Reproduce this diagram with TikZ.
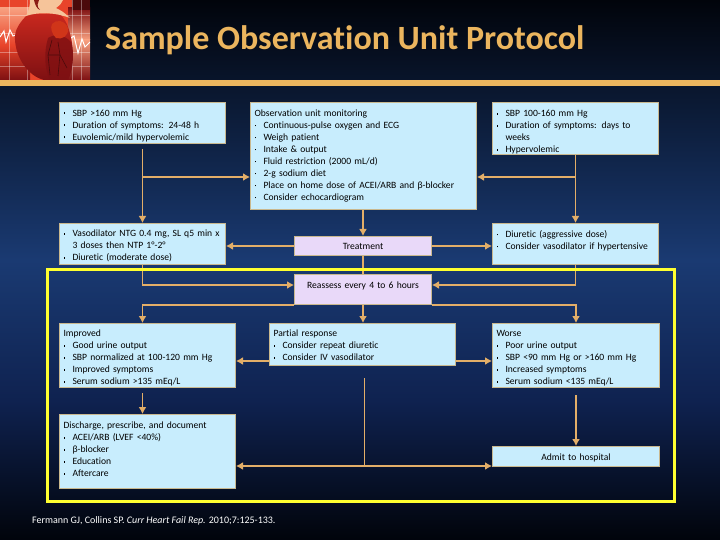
\documentclass[tikz,border=0pt]{standalone}
\usepackage{fontspec}
\setmainfont{Carlito}[Ligatures=CommonOff]
\usetikzlibrary{arrows.meta}

\definecolor{gold}{HTML}{EBB55E}
\definecolor{boxblue}{HTML}{C8EDFD}
\definecolor{boxlilac}{HTML}{E9D9F9}
\definecolor{boxedge}{HTML}{C9B88E}
\definecolor{wire}{HTML}{E3AE68}
\definecolor{frameyellow}{HTML}{FFFF30}
\definecolor{navymid}{HTML}{1A3A72}
\definecolor{navylow}{HTML}{0F2250}
\definecolor{nearblack}{HTML}{01040B}
\definecolor{heartred}{HTML}{C8281E}
\definecolor{heartdark}{HTML}{7E1012}
\definecolor{heartpeach}{HTML}{F6C49A}
\definecolor{scenered}{HTML}{E8442A}
\definecolor{sceneglow}{HTML}{F8A080}

\newcommand{\itm}[1]{\makebox[9pt][l]{\raisebox{2.2pt}{\rule{1.8pt}{1.8pt}}}#1}
\newcommand{\hang}[1]{\hspace*{9pt}#1}
\newcommand{\pad}[1]{\rule{0pt}{#1pt}}

\tikzset{
    infobox/.style={draw=boxedge, line width=1pt, fill=boxblue, text=black, anchor=north west,
        inner xsep=4pt, inner ysep=0pt, align=left, font=\fontsize{9.6}{12}\selectfont},
    stepbox/.style={infobox, fill=boxlilac, align=center},
    link/.style={draw=wire, line width=1.8pt},
    arrowlink/.style={link, -{Latex[length=7pt,width=8pt]}},
}

\begin{document}
\begin{tikzpicture}[x=1pt,y=-1pt]
        \useasboundingbox (0,0) rectangle (720,540);

        % page background
        \shade[top color=nearblack, bottom color=navymid] (0,0) rectangle (720,260);
        \shade[top color=navymid, bottom color=navylow] (0,260) rectangle (720,400);
        \shade[top color=navylow, bottom color=nearblack] (0,400) rectangle (720,540);

        % heart picture
        \begin{scope}
            \clip (0,0) rectangle (90,80);
            \fill[scenered] (0,0) rectangle (90,80);
            \shade[top color=scenered, bottom color=heartdark] (0,45) rectangle (30,80);
            \shade[top color=sceneglow, bottom color=scenered] (0,8) rectangle (30,45);
            \shade[top color=heartdark, bottom color=sceneglow] (68,8) rectangle (90,40);
            \shade[top color=sceneglow, bottom color=heartdark] (68,40) rectangle (90,80);
            \fill[heartdark!60!black] (72,0) rectangle (90,10);
            \foreach \gx in {9,27,72,81} {
                \draw[white, opacity=0.35, line width=0.5pt] (\gx,0) -- (\gx,80);
            }
            \foreach \gy in {15,33,52,66} {
                \draw[white, opacity=0.35, line width=0.5pt] (0,\gy) -- (90,\gy);
            }
            \draw[white, line width=1pt] (0,37) -- (4,31) -- (6,42) -- (10,30) -- (13,36) -- (18,34);
            \draw[white, line width=1pt] (68,40) -- (74,36) -- (78,53) -- (82,39) -- (85,47) -- (90,42);
            % body
            \shade[top color=heartred, bottom color=heartdark]
            (28,14) .. controls (20,22) and (14,30) .. (15,40)
            .. controls (16,58) and (28,76) .. (44,80)
            -- (68,80) .. controls (74,68) and (74,50) .. (71,38)
            .. controls (69,28) and (66,20) .. (60,14) -- cycle;
            % aorta
            \fill[heartpeach]
            (30,0) .. controls (30,6) and (29,10) .. (26,16)
            .. controls (38,12) and (54,12) .. (70,18)
            .. controls (64,12) and (60,10) .. (56,8)
            .. controls (60,5) and (62,3) .. (63,0) -- cycle;
            \fill[heartred!70!black] (34,0) .. controls (35,5) and (37,9) .. (40,10)
            .. controls (36,6) and (38,3) .. (39,0) -- cycle;
            % ventricle and atrium
            \fill[heartdark, opacity=0.75]
            (48,38) .. controls (44,52) and (44,68) .. (50,80)
            -- (68,80) .. controls (74,68) and (74,50) .. (71,42)
            .. controls (64,34) and (54,34) .. (48,38) -- cycle;
            \fill[heartred!85!orange] (52,24) .. controls (56,19) and (65,20) .. (68,28)
            .. controls (69,36) and (62,40) .. (56,38)
            .. controls (52,34) and (50,28) .. (52,24) -- cycle;
            \draw[heartdark!60!black, line width=0.6pt] (52,40) -- (48,55) -- (50,75);
            \draw[heartdark!60!black, line width=0.6pt] (58,42) -- (60,55) -- (58,76);
            \draw[heartdark!60!black, line width=0.6pt] (48,55) -- (60,55) -- (67,68);
        \end{scope}

        % title and bar
        \fill[gold] (0,80) rectangle (720,86);
        \node[anchor=west, inner sep=0pt, text=gold, font=\fontsize{34}{38}\selectfont\bfseries] (title) at (105,40) {Sample Observation Unit Protocol};

        % top row
        \node[infobox, text width=158pt, minimum height=41pt] (highSbp) at (59,102) {\pad{12}\itm{SBP >160 mm Hg}\\ \itm{Duration of symptoms: 24-48 h}\\ \itm{Euvolemic/mild hypervolemic}};
        \node[infobox, text width=218pt, minimum height=107pt] (monitoring) at (250,102) {Observation unit monitoring\\ \itm{Continuous-pulse oxygen and ECG}\\ \itm{Weigh patient}\\ \itm{Intake \& output}\\ \itm{Fluid restriction (2000 mL/d)}\\ \itm{2-g sodium diet}\\ \itm{Place on home dose of ACEI/ARB and β-blocker}\\ \itm{Consider echocardiogram}};
        \node[infobox, text width=158pt, minimum height=52pt] (midSbp) at (492,102) {\pad{14}\itm{SBP 100-160 mm Hg}\\ \itm{Duration of symptoms: days to}\\ \hang{weeks}\\ \itm{Hypervolemic}};

        % treatment row
        \node[infobox, text width=158pt, minimum height=41pt] (vasodil) at (59,223) {\pad{11}\itm{Vasodilator NTG 0.4 mg, SL q5 min x}\\ \hang{3 doses then NTP 1°-2°}\\ \itm{Diuretic (moderate dose)}};
        \node[stepbox, text width=129pt, minimum height=19pt] (treatment) at (294,236) {Treatment};
        \node[infobox, text width=158pt, minimum height=41pt] (diuretic) at (492,223) {\itm{Diuretic (aggressive dose)}\\ \itm{Consider vasodilator if hypertensive}\\[-4pt]\mbox{}};

        \node[stepbox, text width=129pt, minimum height=30pt] (reassess) at (294,274) {Reassess every 4 to 6 hours\\[-4pt]\mbox{}};

        % outcome row
        \node[infobox, text width=168pt, minimum height=64pt] (improved) at (59,323) {\pad{12}Improved\\ \itm{Good urine output}\\ \itm{SBP normalized at 100-120 mm Hg}\\ \itm{Improved symptoms}\\ \itm{Serum sodium >135 mEq/L}};
        \node[infobox, text width=178pt, minimum height=42pt] (partial) at (269,323) {\pad{9}Partial response\\ \itm{Consider repeat diuretic}\\ \itm{Consider IV vasodilator}};
        \node[infobox, text width=159pt, minimum height=64pt] (worse) at (492,323) {\pad{12}Worse\\ \itm{Poor urine output}\\ \itm{SBP <90 mm Hg or >160 mm Hg}\\ \itm{Increased symptoms}\\ \itm{Serum sodium <135 mEq/L}};

        % last row
        \node[infobox, text width=168pt, minimum height=74pt] (discharge) at (59,414) {Discharge, prescribe, and document\\ \itm{ACEI/ARB (LVEF <40\%)}\\ \itm{β-blocker}\\ \itm{Education}\\ \itm{Aftercare}\\[-8pt]\mbox{}};
        \node[stepbox, fill=boxblue, text width=159pt, minimum height=20pt] (admit) at (492,446) {\pad{9}Admit to hospital};

        \node[anchor=west, inner sep=0pt, text=white, font=\fontsize{10}{12}\selectfont] (source) at (32,521) {Fermann GJ, Collins SP. \textit{Curr Heart Fail Rep.} 2010;7:125-133.};

        % upper connectors
        \coordinate (highOut) at ([yshift=-5pt]highSbp.south);
        \coordinate (highTurn) at (highSbp.south |- 0,177);
        \coordinate (midTurn) at (midSbp.south |- 0,177);
        \draw[arrowlink] (highOut) -- (vasodil.north);
        \draw[arrowlink] (highTurn) -- (highTurn -| monitoring.west);
        \draw[arrowlink] (midSbp.south) -- (diuretic.north);
        \draw[arrowlink] (midTurn) -- (midTurn -| monitoring.east);
        \draw[arrowlink] (monitoring.south -| treatment.north) -- (treatment.north);
        \draw[arrowlink] (treatment.west) -- (treatment.west -| vasodil.east);
        \draw[arrowlink] (treatment.east) -- (treatment.east -| diuretic.west);

        % into reassess
        \coordinate (reassessIn) at ([yshift=-11pt]reassess.north west);
        \coordinate (reassessOut) at ([yshift=-11pt]reassess.north east);
        \draw[link] (treatment.south) -- (treatment.south |- reassess.north);
        \draw[arrowlink] (vasodil.south) |- (reassessIn);
        \draw[arrowlink] (diuretic.south) |- (reassessOut);

        % out of reassess
        \draw[arrowlink] (reassess.south west) -| (vasodil.south |- improved.north);
        \draw[arrowlink] (reassess.south) -- (reassess.south |- partial.north);
        \draw[arrowlink] (reassess.south east) -| (worse.north);

        % lower connectors
        \coordinate (partialLeft) at (partial.west |- 0,361);
        \coordinate (partialRight) at (partial.east |- 0,361);
        \coordinate (improvedOut) at ([yshift=-5pt]vasodil.south |- improved.south);
        \coordinate (worseOut) at ([yshift=-7pt]worse.south);
        \coordinate (partialOut) at ([xshift=2pt]partial.south |- 0,378);
        \coordinate (partialTurn) at ([xshift=2pt]partial.south |- 0,466);
        \draw[arrowlink] (partialLeft) -- (partialLeft -| improved.east);
        \draw[arrowlink] (partialRight) -- (partialRight -| worse.west);
        \draw[arrowlink] (improvedOut) -- (improvedOut |- discharge.north);
        \draw[arrowlink] (worseOut) -- (admit.north);
        \draw[link] (partialOut) -- (partialTurn);
        \draw[arrowlink] (partialTurn) -- (partialTurn -| discharge.east);
        \draw[arrowlink] (partialTurn) -- (partialTurn -| admit.west);

        % yellow frame
        \draw[frameyellow, line width=3pt] (47,269) rectangle (674,501);
    \end{tikzpicture}
\end{document}
